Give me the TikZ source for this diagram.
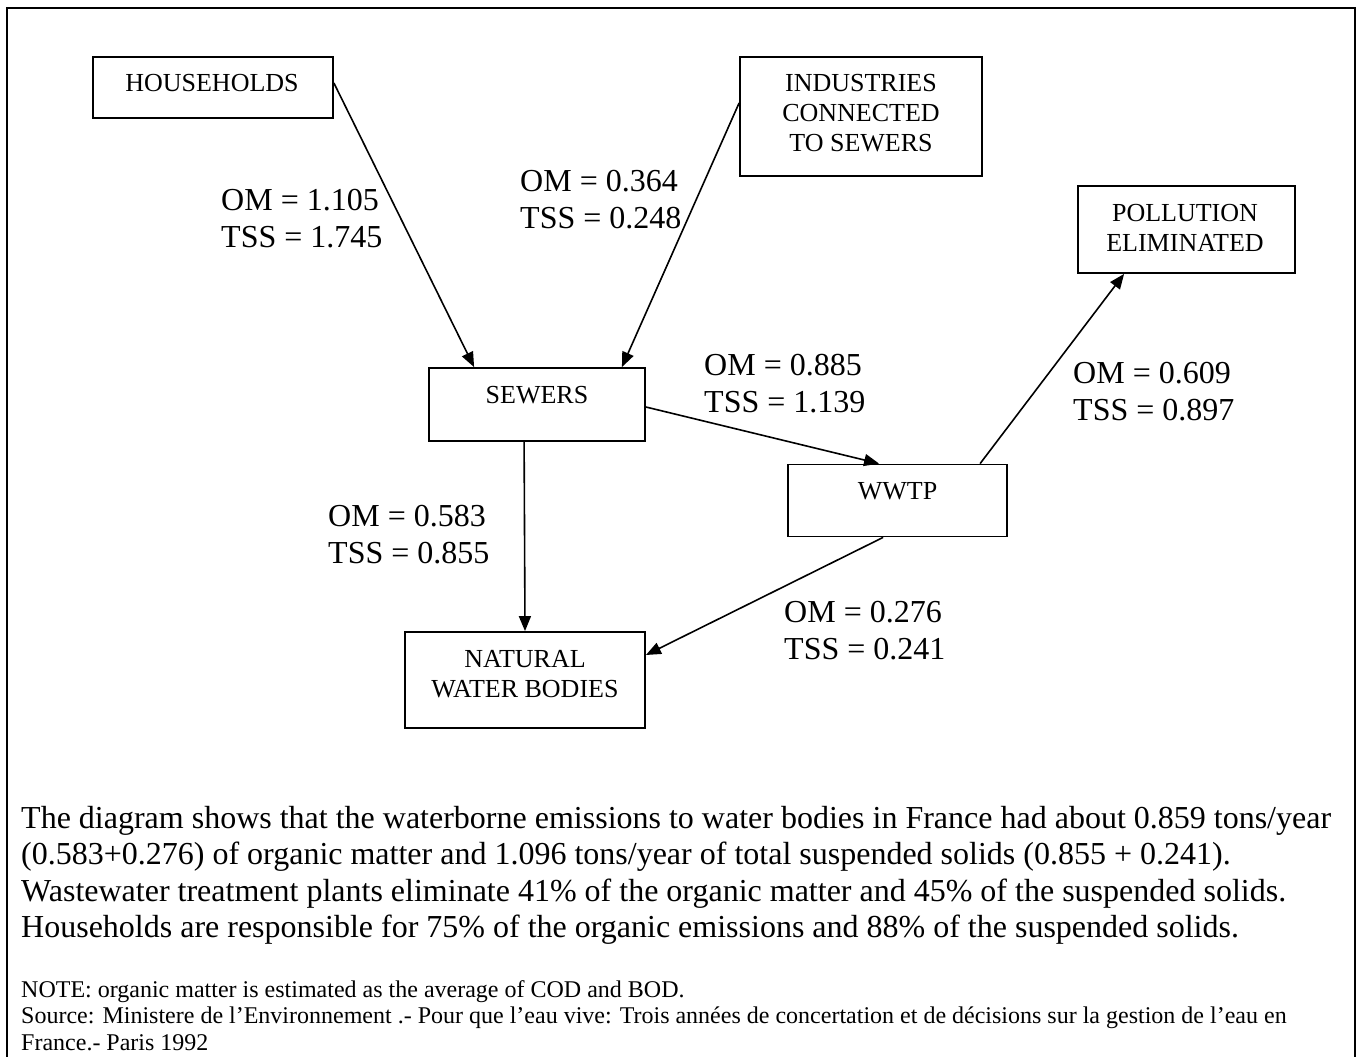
\documentclass[tikz,border=0pt]{standalone}
\usepackage{fontspec}
\setmainfont{Liberation Serif}
\usetikzlibrary{calc,arrows.meta}
\begin{document}
\begin{tikzpicture}[x=1pt,y=-1pt,
  boxnode/.style={draw,line width=1.8pt,inner sep=0pt},
  boxtext/.style={inner sep=0pt,align=center,font=\fontsize{26}{30}\selectfont},
  flowlabel/.style={inner sep=0pt,align=left,anchor=west,font=\fontsize{32}{37}\selectfont},
  flow/.style={line width=1.6pt,-{Triangle[length=15pt,width=12pt]}}]
\useasboundingbox (0,0) rectangle (1358,1057);
\fill[white] (0,0) rectangle (1358,1057);
\draw[line width=2.6pt] (7,1060) -- (7,8) -- (1355,8) -- (1355,1060);
% boxes
\node[boxnode,minimum width=240,minimum height=61] (hh) at (213,87.5) {};
\node[boxnode,minimum width=242,minimum height=119] (ind) at (861,116.5) {};
\node[boxnode,minimum width=217,minimum height=87] (pol) at (1186.5,229.5) {};
\node[boxnode,minimum width=216,minimum height=73] (sew) at (537,404.5) {};
\node[boxnode,minimum width=219,minimum height=72] (wwtp) at (897.5,500.5) {};
\node[boxnode,minimum width=240,minimum height=96] (nat) at (525,680) {};
% box texts
\node[boxtext] (hht) at (212,83.5) {HOUSEHOLDS};
\node[boxtext] (indt) at (861,113) {INDUSTRIES\\CONNECTED\\TO SEWERS};
\node[boxtext] (polt) at (1185,228) {POLLUTION\\ELIMINATED};
\node[boxtext] (sewt) at (537,395.5) {SEWERS};
\node[boxtext] (wwtpt) at (897.5,491.5) {WWTP};
\node[boxtext] (natt) at (525,674) {NATURAL\\WATER BODIES};
% connectors
\draw[flow] ($(hh.east)+(0,-4.5)$) -- ($(sew.north west)+(46,0)$);
\draw[flow] ($(ind.west)+(0,-13.5)$) -- ($(sew.north east)+(-24,0)$);
\draw[flow] ($(sew.east)+(0,2.5)$) -- ($(wwtp.north west)+(92,0)$);
\draw[flow] ($(sew.south west)+(96,0)$) -- (nat.north);
\draw[flow] ($(wwtp.north west)+(193,0)$) -- ($(pol.south west)+(47,0)$);
\draw[flow] ($(wwtp.south west)+(96,0)$) -- ($(nat.east)+(0,-25)$);
% flow labels
\node[flowlabel] (l1) at (221,218.5) {OM = 1.105\\TSS = 1.745};
\node[flowlabel] (l2) at (520,200) {OM = 0.364\\TSS = 0.248};
\node[flowlabel] (l3) at (704,383.5) {OM = 0.885\\TSS = 1.139};
\node[flowlabel] (l4) at (1073,391.5) {OM = 0.609\\TSS = 0.897};
\node[flowlabel] (l5) at (328,535) {OM = 0.583\\TSS = 0.855};
\node[flowlabel] (l6) at (784,630.5) {OM = 0.276\\TSS = 0.241};
% body text
\node[inner sep=0pt,align=left,anchor=north west,font=\fontsize{32}{36.5}\selectfont] (body) at (21,806)
{The diagram shows that the waterborne emissions to water bodies in France had about 0.859 tons/year\\
(0.583+0.276) of organic matter and 1.096 tons/year of total suspended solids (0.855 + 0.241).\\
Wastewater treatment plants eliminate 41\% of the organic matter and 45\% of the suspended solids.\\
Households are responsible for 75\% of the organic emissions and 88\% of the suspended solids.};
\node[inner sep=0pt,align=left,anchor=north west,font=\fontsize{24}{26.5}\selectfont] (note) at (21,980)
{NOTE: organic matter is estimated as the average of COD and BOD.\\
Source: Ministere de l’Environnement .- Pour que l’eau vive: Trois années de concertation et de décisions sur la gestion de l’eau en\\
France.- Paris 1992};
\end{tikzpicture}
\end{document}
